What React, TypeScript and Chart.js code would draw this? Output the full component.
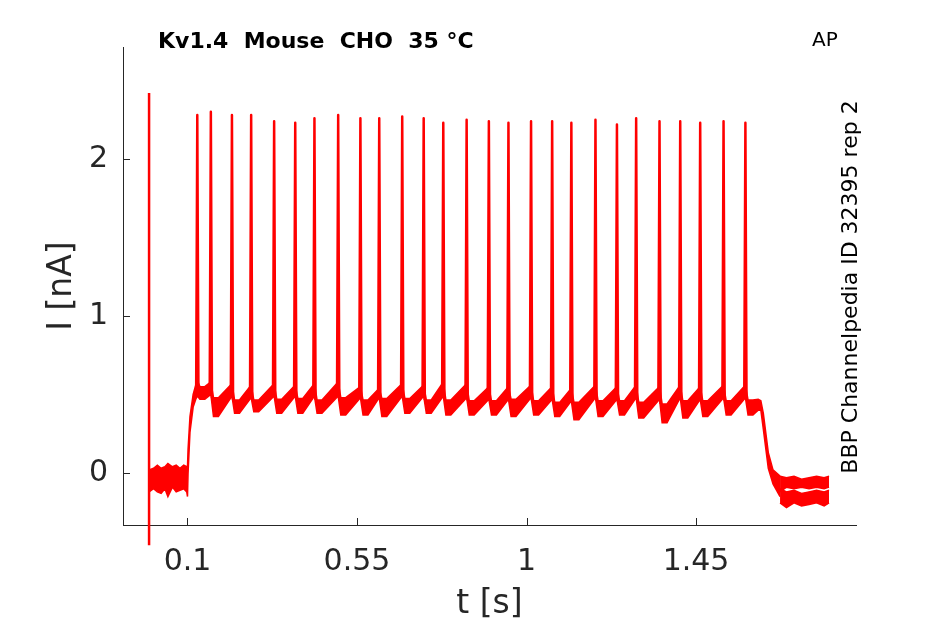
import { useEffect, useRef } from "react";
import { Chart, registerables } from "chart.js";

Chart.register(...registerables);

// ---------- data ----------
const xTickValues = [0.1, 0.55, 1, 1.45];
const xTickLabels = ["0.1", "0.55", "1", "1.45"];
const yTickValues = [0, 1, 2];
const yTickLabels = ["0", "1", "2"];

// action-potential-like spikes in the current trace
const spikeTimes = [0.126, 0.162, 0.218, 0.269, 0.33, 0.386, 0.437, 0.5, 0.559, 0.609, 0.67, 0.727, 0.779, 0.841, 0.9, 0.952, 1.012, 1.068, 1.119, 1.183, 1.24, 1.291, 1.353, 1.408, 1.461, 1.523, 1.581];
const spikePeaks = [2.28, 2.3, 2.28, 2.28, 2.24, 2.23, 2.26, 2.28, 2.26, 2.26, 2.27, 2.26, 2.23, 2.25, 2.24, 2.23, 2.24, 2.24, 2.23, 2.25, 2.22, 2.26, 2.24, 2.24, 2.23, 2.24, 2.23];

// band of overlapping sweeps just before each spike
const preTop = [0.59, 0.58, 0.57, 0.56, 0.57, 0.56, 0.57, 0.58, 0.55, 0.54, 0.57, 0.56, 0.58, 0.57, 0.55, 0.55, 0.56, 0.55, 0.54, 0.56, 0.55, 0.56, 0.55, 0.56, 0.55, 0.56, 0.56];
const preBottom = [0.49, 0.5, 0.49, 0.48, 0.49, 0.49, 0.49, 0.49, 0.48, 0.48, 0.49, 0.49, 0.49, 0.48, 0.47, 0.47, 0.48, 0.47, 0.46, 0.48, 0.47, 0.48, 0.47, 0.48, 0.47, 0.48, 0.48];
// band at the trough after each spike
const troughTop = [0.55, 0.48, 0.465, 0.465, 0.47, 0.475, 0.465, 0.48, 0.465, 0.475, 0.475, 0.465, 0.465, 0.46, 0.46, 0.47, 0.46, 0.45, 0.45, 0.46, 0.46, 0.45, 0.44, 0.46, 0.46, 0.46, 0.465];
const troughBottom = [0.47, 0.36, 0.38, 0.39, 0.38, 0.38, 0.38, 0.37, 0.37, 0.36, 0.38, 0.38, 0.37, 0.37, 0.37, 0.36, 0.37, 0.36, 0.34, 0.36, 0.37, 0.35, 0.32, 0.35, 0.36, 0.37, 0.37];
// time after a spike at which the trough begins and ends (s)
const troughSpan = [0.007, 0.02];

// holding baseline and step onset
const onsetTimes = [-0.002, 0.01, 0.02, 0.03, 0.04, 0.048, 0.06, 0.07, 0.08, 0.09, 0.098, 0.1, 0.1015, 0.1066, 0.115, 0.122];
const onsetTop = [0.02, 0.03, 0.05, 0.03, 0.04, 0.06, 0.04, 0.05, 0.03, 0.05, 0.04, 0.04, 0.15, 0.36, 0.5, 0.56];
const onsetBottom = [-0.12, -0.1, -0.12, -0.13, -0.1, -0.15, -0.09, -0.12, -0.11, -0.1, -0.12, -0.15, 0.0, 0.26, 0.42, 0.47];

// step offset and decay
const offsetTimes = [1.615, 1.622, 1.6286, 1.6418, 1.6543, 1.673];
const offsetTop = [0.47, 0.46, 0.38, 0.13, 0.02, -0.02];
const offsetBottom = [0.4, 0.4, 0.28, 0.03, -0.07, -0.15];

// two sweeps separating after the step
const tailTimes = [1.673, 1.69, 1.71, 1.73, 1.75, 1.77, 1.79, 1.803];
const tailUpperTop = [-0.02, -0.03, -0.02, -0.04, -0.03, -0.02, -0.03, -0.02];
const tailUpperBottom = [-0.12, -0.09, -0.1, -0.09, -0.1, -0.09, -0.1, -0.09];
const tailLowerTop = [-0.1, -0.12, -0.11, -0.13, -0.12, -0.11, -0.12, -0.11];
const tailLowerBottom = [-0.19, -0.22, -0.19, -0.21, -0.2, -0.19, -0.21, -0.19];

// capacitive transient at t = 0
const transientTime = -0.002;
const transientRange = [-0.46, 2.42];

const FONT = "DejaVu Sans";
const RED = "#ff0000";
const AXIS = "#262626";

export default function App() {
  const ref = useRef<HTMLCanvasElement | null>(null);

  useEffect(() => {
    if (!ref.current) return;

    const band: { t: number; top: number; bottom: number }[] = [];
    onsetTimes.forEach((t, i) => band.push({ t, top: onsetTop[i], bottom: onsetBottom[i] }));
    spikeTimes.forEach((t, i) => {
      band.push({ t, top: preTop[i], bottom: preBottom[i] });
      troughSpan.forEach((d) => band.push({ t: t + d, top: troughTop[i], bottom: troughBottom[i] }));
    });
    offsetTimes.forEach((t, i) => band.push({ t, top: offsetTop[i], bottom: offsetBottom[i] }));

    const spikeLine: { x: number; y: number | null }[] = [];
    spikeTimes.forEach((t, i) => {
      spikeLine.push({ x: t - 0.003, y: preBottom[i] + 0.03 });
      spikeLine.push({ x: t, y: spikePeaks[i] });
      spikeLine.push({ x: t + 0.003, y: troughTop[i] });
      spikeLine.push({ x: t + 0.003, y: null });
    });

    const lineDs = (data: any[], fill: any) => ({
      data,
      borderColor: RED,
      backgroundColor: RED,
      borderWidth: 1.5,
      pointRadius: 0,
      fill,
      tension: 0,
    });

    const ticksPlugin = {
      id: "inwardTicks",
      afterDatasetsDraw(chart: any) {
        const { ctx, chartArea, scales } = chart;
        ctx.save();
        ctx.strokeStyle = AXIS;
        ctx.lineWidth = 1;
        xTickValues.forEach((v) => {
          const px = Math.round(scales.x.getPixelForValue(v)) + 0.5;
          ctx.beginPath();
          ctx.moveTo(px, chartArea.bottom);
          ctx.lineTo(px, chartArea.bottom - 7);
          ctx.stroke();
        });
        yTickValues.forEach((v) => {
          const py = Math.round(scales.y.getPixelForValue(v)) + 0.5;
          ctx.beginPath();
          ctx.moveTo(chartArea.left, py);
          ctx.lineTo(chartArea.left + 7, py);
          ctx.stroke();
        });
        ctx.restore();
      },
      afterDraw(chart: any) {
        const { ctx } = chart;
        ctx.save();
        ctx.fillStyle = "#000000";
        ctx.textBaseline = "alphabetic";
        ctx.textAlign = "left";
        ctx.font = `bold 22px "${FONT}"`;
        ctx.fillText("Kv1.4  Mouse  CHO  35 °C", 158, 48);
        ctx.font = `20px "${FONT}"`;
        ctx.fillText("AP", 812, 46);
        ctx.translate(857, 287);
        ctx.rotate(-Math.PI / 2);
        ctx.textAlign = "center";
        ctx.font = `22px "${FONT}"`;
        ctx.fillText("BBP Channelpedia ID 32395 rep 2", 0, 0);
        ctx.restore();
      },
    };

    const chart = new Chart(ref.current, {
      type: "line",
      data: {
        datasets: [
          lineDs(band.map((p) => ({ x: p.t, y: p.top })), false),
          lineDs(band.map((p) => ({ x: p.t, y: p.bottom })), "-1"),
          lineDs(tailTimes.map((t, i) => ({ x: t, y: tailUpperTop[i] })), false),
          lineDs(tailTimes.map((t, i) => ({ x: t, y: tailUpperBottom[i] })), "-1"),
          lineDs(tailTimes.map((t, i) => ({ x: t, y: tailLowerTop[i] })), false),
          lineDs(tailTimes.map((t, i) => ({ x: t, y: tailLowerBottom[i] })), "-1"),
          {
            data: spikeLine,
            borderColor: RED,
            borderWidth: 2.5,
            pointRadius: 0,
            fill: false,
            spanGaps: false,
            borderJoinStyle: "round",
          } as any,
          {
            data: transientRange.map((y) => ({ x: transientTime, y })),
            borderColor: RED,
            borderWidth: 2.5,
            pointRadius: 0,
            fill: false,
            clip: false,
          } as any,
        ],
      },
      options: {
        animation: false,
        responsive: false,
        devicePixelRatio: 1,
        layout: { padding: { top: 47, right: 89, left: 0, bottom: 0 } },
        plugins: {
          legend: { display: false },
          tooltip: { enabled: false },
          title: { display: false },
        },
        scales: {
          x: {
            type: "linear",
            min: -0.0712,
            max: 1.8746,
            grid: { display: false, drawTicks: false },
            border: { display: true, color: AXIS, width: 1 },
            afterBuildTicks: (s: any) => {
              s.ticks = xTickValues.map((v) => ({ value: v }));
            },
            afterFit: (s: any) => {
              s.height = 99;
            },
            ticks: {
              autoSkip: false,
              maxRotation: 0,
              padding: 19,
              color: AXIS,
              font: { family: FONT, size: 30 },
              callback: (_v: any, i: number) => xTickLabels[i],
            },
            title: {
              display: true,
              text: "t [s]",
              color: AXIS,
              font: { family: FONT, size: 33 },
              padding: { top: 0, bottom: 0 },
            },
          },
          y: {
            type: "linear",
            min: -0.331,
            max: 2.713,
            grid: { display: false, drawTicks: false },
            border: { display: true, color: AXIS, width: 1 },
            afterBuildTicks: (s: any) => {
              s.ticks = yTickValues.map((v) => ({ value: v }));
            },
            afterFit: (s: any) => {
              s.width = 123;
            },
            ticks: {
              autoSkip: false,
              padding: 15,
              color: AXIS,
              font: { family: FONT, size: 30 },
              callback: (_v: any, i: number) => yTickLabels[i],
            },
            title: {
              display: true,
              text: "I [nA]",
              color: AXIS,
              font: { family: FONT, size: 33 },
              padding: { top: 43, bottom: 0 },
            },
          },
        },
      },
      plugins: [ticksPlugin],
    } as any);

    return () => chart.destroy();
  }, []);

  return (
    <div style={{ position: "fixed", left: 0, top: 0, width: 945, height: 624, background: "#ffffff" }}>
      <canvas ref={ref} width={945} height={624} style={{ display: "block" }} />
    </div>
  );
}
